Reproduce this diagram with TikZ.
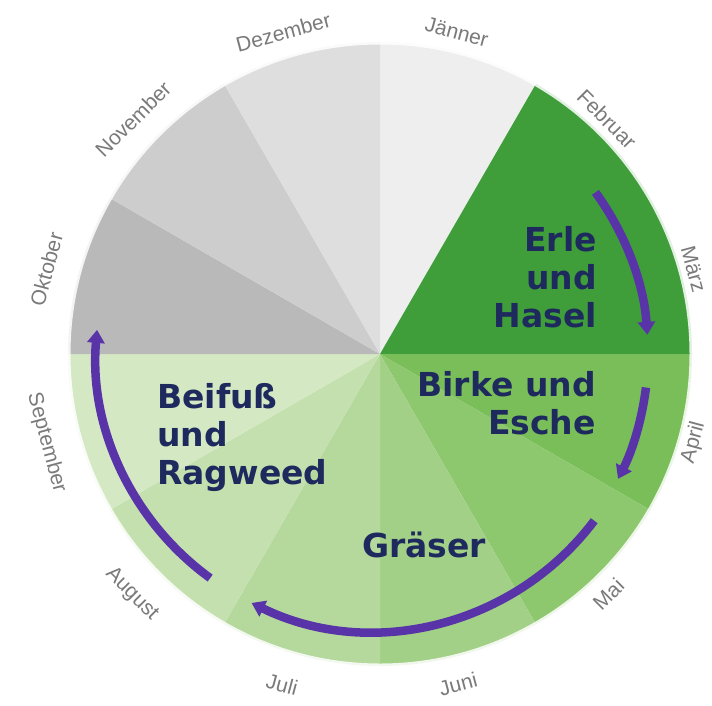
\documentclass[tikz,border=0pt]{standalone}
\usepackage{fontspec}
\setmainfont{Liberation Sans}
\newfontfamily\boldlbl{DejaVu Sans}
\usetikzlibrary{arrows.meta,calc}
\definecolor{janc}{HTML}{EEEEEE}
\definecolor{dezc}{HTML}{DEDEDE}
\definecolor{novc}{HTML}{CDCDCD}
\definecolor{oktc}{HTML}{B9B9B9}
\definecolor{febc}{HTML}{3F9E3A}
\definecolor{aprc}{HTML}{79BE58}
\definecolor{maic}{HTML}{8DC76E}
\definecolor{junc}{HTML}{A3D087}
\definecolor{julc}{HTML}{B5D99C}
\definecolor{augc}{HTML}{C4E0AF}
\definecolor{sepc}{HTML}{D3E8C3}
\definecolor{arrowc}{RGB}{88,52,168}
\definecolor{navy}{HTML}{1E2A5E}
\definecolor{monthc}{HTML}{7A7A7A}
\tikzset{
  monthlbl/.style={font=\fontsize{21}{24}\selectfont, text=monthc, inner sep=0pt},
  innerlbl/.style={font=\boldlbl\bfseries\fontsize{33}{38}\selectfont, text=navy, inner sep=0pt},
  pollenarrow/.style={draw=arrowc, line width=8.5pt, -{Triangle[length=13pt,width=17pt]}},
}
\newcommand\pieslice[3]{\fill[#3] (C) -- ($(C)+(#1:312)$) arc[start angle=#1,end angle=#2,radius=312] -- cycle;}
\begin{document}
\begin{tikzpicture}[x=1pt,y=1pt]
\useasboundingbox (0,0) rectangle (712,-705);
\fill[white] (0,0) rectangle (712,-705);
\coordinate (C) at (380,-354);
% sectors
\pieslice{90}{60}{janc}
\pieslice{60}{0}{febc}
\pieslice{0}{-30}{aprc}
\pieslice{-30}{-60}{maic}
\pieslice{-60}{-90}{junc}
\pieslice{-90}{-120}{julc}
\pieslice{-120}{-150}{augc}
\pieslice{-150}{-180}{sepc}
\pieslice{180}{150}{oktc}
\pieslice{150}{120}{novc}
\pieslice{120}{90}{dezc}
\draw[white, line width=5pt, opacity=.85] (C) circle[radius=312];
% month labels
\coordinate (L) at (370,-356);
\node[monthlbl, rotate=-15] (jan) at ($(L)+(75:335)$) {Jänner};
\node[monthlbl, rotate=-45] (feb) at ($(L)+(45:335)$) {Februar};
\node[monthlbl, rotate=-75] (mar) at ($(L)+(15:335)$) {März};
\node[monthlbl, rotate=75] (apr) at ($(L)+(-15:335)$) {April};
\node[monthlbl, rotate=45] (mai) at ($(L)+(-45:337)$) {Mai};
\node[monthlbl, rotate=15] (jun) at ($(L)+(-75:340)$) {Juni};
\node[monthlbl, rotate=-15] (jul) at ($(L)+(-105:340)$) {Juli};
\node[monthlbl, rotate=-45] (aug) at ($(L)+(-135:337)$) {August};
\node[monthlbl, rotate=-75] (sep) at ($(L)+(-165:335)$) {September};
\node[monthlbl, rotate=75] (okt) at ($(L)+(165:335)$) {Oktober};
\node[monthlbl, rotate=45] (nov) at ($(L)+(135:335)$) {November};
\node[monthlbl, rotate=15] (dez) at ($(L)+(105:335)$) {Dezember};
% arrows
\coordinate (A) at (373,-354);
\coordinate (a1s) at ($(A)+(36:275)$);
\coordinate (a2s) at ($(A)+(-7:275)$);
\coordinate (a3s) at ($(A)+(-37:277)$);
\coordinate (a4s) at ($(A)+(-126:277)$);
\draw[pollenarrow] (a1s) arc[start angle=36,end angle=4,radius=275];
\draw[pollenarrow] (a2s) arc[start angle=-7,end angle=-27,radius=275];
\draw[pollenarrow] (a3s) arc[start angle=-37,end angle=-116,radius=277];
\draw[pollenarrow] (a4s) arc[start angle=-126,end angle=-185,radius=277];
% inner labels
\node[innerlbl, align=right, anchor=north east] (erle) at (597,-226)
  {Erle\\und\\Hasel};
\node[innerlbl, align=right, anchor=north east] (birke) at (596,-371)
  {Birke und\\Esche};
\node[innerlbl, align=left, anchor=north west] (beifuss) at (157,-383)
  {Beifuß\\und\\Ragweed};
\node[innerlbl, anchor=north west] (graeser) at (362,-532)
  {Gräser};
\end{tikzpicture}
\end{document}
